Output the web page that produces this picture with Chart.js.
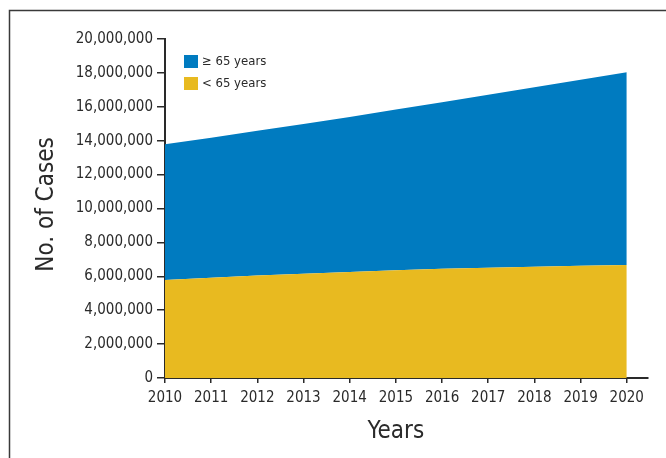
<!DOCTYPE html>
<html lang="en">
<head>
  <meta charset="UTF-8">
  <script src="https://cdn.jsdelivr.net/npm/chart.js"></script>
  <title>No. of Cases by Age Group</title>
  <style>
    body {
      margin: 0;
      background: #ffffff;
    }
    #wrap {
      position: relative;
      width: 666px;
      height: 458px;
    }
  </style>
</head>
<body>
  <div id="wrap">
    <canvas id="casesChart" width="666" height="458"></canvas>
  </div>

  <script>
    // data (values in cases)
    const years = [2010, 2011, 2012, 2013, 2014, 2015, 2016, 2017, 2018, 2019, 2020];
    const under65 = [5780000, 5920000, 6040000, 6150000, 6250000, 6350000, 6440000, 6510000, 6570000, 6620000, 6670000];
    const over65 = [8010000, 8260000, 8540000, 8830000, 9150000, 9490000, 9830000, 10200000, 10580000, 10980000, 11370000];
    const yTicks = [0, 2000000, 4000000, 6000000, 8000000, 10000000, 12000000, 14000000, 16000000, 18000000, 20000000];

    const FONT = "'Liberation Sans Narrow', 'DejaVu Sans Condensed', 'Arial Narrow', sans-serif";
    const INK = '#2a2a2a';
    const BLUE = 'rgb(0, 123, 192)';
    const YELLOW = 'rgb(232, 186, 32)';

    // frame, axis titles and the inset legend
    const decorations = {
      id: 'decorations',
      beforeDraw(chart) {
        const ctx = chart.ctx;
        ctx.save();
        ctx.strokeStyle = '#3a3a3a';
        ctx.lineWidth = 1.5;
        ctx.beginPath();
        ctx.moveTo(9.5, 458);
        ctx.lineTo(9.5, 10.5);
        ctx.lineTo(666, 10.5);
        ctx.stroke();
        ctx.restore();
      },
      afterDraw(chart) {
        const ctx = chart.ctx;
        const x = chart.scales.x;
        const y = chart.scales.y;
        ctx.save();
        ctx.fillStyle = INK;
        ctx.textAlign = 'center';
        ctx.textBaseline = 'middle';
        ctx.font = '24px ' + FONT;
        ctx.fillText('Years', x.getPixelForValue(2015), 432);

        ctx.translate(47, y.getPixelForValue(10000000) - 4);
        ctx.rotate(-Math.PI / 2);
        ctx.fillText('No. of Cases', 0, 0);
        ctx.restore();

        // legend, top item is the upper band
        const items = chart.data.datasets.slice().reverse();
        ctx.save();
        ctx.font = '13px ' + FONT;
        ctx.textAlign = 'left';
        ctx.textBaseline = 'middle';
        items.forEach((ds, i) => {
          const top = 55 + i * 22;
          ctx.fillStyle = ds.backgroundColor;
          ctx.fillRect(184, top, 14, 13);
          ctx.fillStyle = INK;
          ctx.fillText(ds.label, 202, top + 7);
        });
        ctx.restore();
      }
    };

    new Chart(document.getElementById('casesChart'), {
      type: 'line',
      data: {
        datasets: [
          {
            label: '< 65 years',
            data: years.map((yr, i) => ({ x: yr, y: under65[i] })),
            backgroundColor: YELLOW,
            borderWidth: 0,
            pointRadius: 0,
            fill: 'origin'
          },
          {
            label: '\u2265 65 years',
            data: years.map((yr, i) => ({ x: yr, y: over65[i] })),
            backgroundColor: BLUE,
            borderWidth: 0,
            pointRadius: 0,
            fill: '-1'
          }
        ]
      },
      options: {
        responsive: false,
        animation: false,
        layout: { padding: { top: 39, right: 18, left: 0, bottom: 0 } },
        plugins: {
          legend: { display: false },
          tooltip: { enabled: false }
        },
        scales: {
          x: {
            type: 'linear',
            min: 2010,
            max: 2020.46,
            border: { display: true, color: INK, width: 2 },
            grid: { drawOnChartArea: false, drawTicks: true, tickLength: 5, color: INK, lineWidth: 1.5 },
            afterBuildTicks(scale) {
              scale.ticks = years.map(v => ({ value: v }));
            },
            afterFit(scale) { scale.height = 80; },
            ticks: {
              autoSkip: false,
              maxRotation: 0,
              padding: 6,
              color: INK,
              font: { family: FONT, size: 15 },
              callback: v => String(v)
            }
          },
          y: {
            stacked: true,
            min: 0,
            max: 20000000,
            border: { display: true, color: INK, width: 2 },
            grid: { drawOnChartArea: false, drawTicks: true, tickLength: 8, color: INK, lineWidth: 1.5 },
            afterBuildTicks(scale) {
              scale.ticks = yTicks.map(v => ({ value: v }));
            },
            afterFit(scale) { scale.width = 165; },
            ticks: {
              padding: 4,
              color: INK,
              font: { family: FONT, size: 15 },
              callback: v => v.toLocaleString('en-US')
            }
          }
        }
      },
      plugins: [decorations]
    });
  </script>
</body>
</html>
